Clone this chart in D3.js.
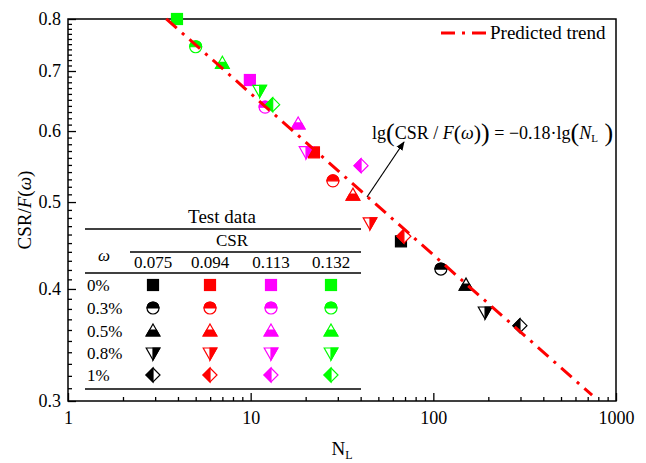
<!DOCTYPE html>
<html><head><meta charset="utf-8">
<script src="https://cdn.jsdelivr.net/npm/d3@7"></script>
<style>
body{margin:0;background:#fff}
svg text{font-family:"Times New Roman","Liberation Serif",Tinos,"DejaVu Serif",serif !important;fill:#000}
</style>
</head><body>
<svg id="chart" width="646" height="463"></svg>
<script>
// Cyclic loading test data: normalised stress ratio vs. cycles to liquefaction
const csrLevels = ["0.075", "0.094", "0.113", "0.132"];
const omegaLevels = ["0%", "0.3%", "0.5%", "0.8%", "1%"];
const seriesColors = ["#000000", "#ff0000", "#ff00ff", "#00ff00"];
const markerKinds = ["square", "circleTop", "triUp", "triDown", "diamondLeft"];

// N_L for each fibre content (rows) and CSR level (columns)
const cyclesN = [
  [66.5, 22.2, 9.9, 3.95],
  [110, 28.2, 12.0, 5.0],
  [151, 36.3, 18.2, 7.0],
  [192, 45, 20.1, 11.2],
  [298, 69, 40.2, 13.2]
];
// CSR / F(omega) for the same cells
const ratioValues = [
  [0.452, 0.568, 0.684, 0.800],
  [0.421, 0.528, 0.638, 0.745],
  [0.404, 0.509, 0.611, 0.714],
  [0.377, 0.474, 0.569, 0.666],
  [0.364, 0.458, 0.549, 0.642]
];

const xTickValues = [1, 10, 100, 1000];
const yTickValues = [0.3, 0.4, 0.5, 0.6, 0.7, 0.8];
const trendSlope = -0.18;
const trendRange = [3.45, 740];

const svg = d3.select("#chart");
const m = {left: 68, top: 19, right: 616, bottom: 401};

const x = d3.scaleLog().domain([1, 1000]).range([m.left, m.right]);
const y = d3.scaleLog().domain([0.3, 0.8]).range([m.bottom, m.top]);

// minor ticks
const xMinor = [];
[1, 10, 100].forEach(d => { for (let k = 2; k <= 9; k++) xMinor.push(d * k); });
const yMinor = d3.range(30, 81).map(v => v / 100).filter(v => !yTickValues.some(t => Math.abs(t - v) < 1e-9));

function styleAxis(g) {
  g.attr("font-family", null);
  g.select(".domain").remove();
  g.selectAll("line").attr("stroke", "#000").attr("stroke-width", 1.3);
  g.selectAll("text").style("font-size", "18px");
}

svg.append("g").attr("transform", `translate(0,${m.bottom})`)
  .call(d3.axisBottom(x).tickValues(xMinor).tickSize(-4).tickFormat(""))
  .call(styleAxis);
svg.append("g").attr("transform", `translate(0,${m.bottom})`)
  .call(d3.axisBottom(x).tickValues(xTickValues).tickSize(-8).tickPadding(10).tickFormat(d3.format("d")))
  .call(styleAxis);
svg.append("g").attr("transform", `translate(${m.left},0)`)
  .call(d3.axisLeft(y).tickValues(yMinor).tickSize(-4).tickFormat(""))
  .call(styleAxis);
svg.append("g").attr("transform", `translate(${m.left},0)`)
  .call(d3.axisLeft(y).tickValues(yTickValues).tickSize(-8).tickPadding(7).tickFormat(d3.format(".1f")))
  .call(styleAxis);

// frame
svg.append("rect").attr("x", m.left).attr("y", m.top)
  .attr("width", m.right - m.left).attr("height", m.bottom - m.top)
  .attr("fill", "none").attr("stroke", "#000").attr("stroke-width", 1.5);

// axis titles
svg.append("text").attr("transform", "translate(31,210) rotate(-90)")
  .attr("text-anchor", "middle").style("font-size", "19px")
  .html('CSR/<tspan font-style="italic">F</tspan>(<tspan font-style="italic">ω</tspan>)');
svg.append("text").attr("x", 342).attr("y", 455).attr("text-anchor", "middle").style("font-size", "19px")
  .html('N<tspan font-size="12px" dy="4">L</tspan>');

// markers
const R = 6;
function drawMarker(g, kind, color) {
  const sw = 1.2;
  if (kind === "square") {
    g.append("rect").attr("x", -R + 0.5).attr("y", -R + 0.5).attr("width", 2 * R - 1).attr("height", 2 * R - 1)
      .attr("fill", color).attr("stroke", color).attr("stroke-width", sw);
  } else if (kind === "circleTop") {
    g.append("circle").attr("r", R).attr("fill", "#fff").attr("stroke", color).attr("stroke-width", sw);
    g.append("path").attr("d", `M${-R},0 A${R},${R} 0 0 1 ${R},0 Z`).attr("fill", color).attr("stroke", color).attr("stroke-width", sw);
  } else if (kind === "triUp") {
    g.append("path").attr("d", "M0,-7 L6.8,5 L-6.8,5 Z").attr("fill", "#fff").attr("stroke", color).attr("stroke-width", sw);
    g.append("path").attr("d", "M-3.4,-1 L3.4,-1 L6.8,5 L-6.8,5 Z").attr("fill", color).attr("stroke", color).attr("stroke-width", sw);
  } else if (kind === "triDown") {
    g.append("path").attr("d", "M-6.8,-5 L6.8,-5 L0,7 Z").attr("fill", "#fff").attr("stroke", color).attr("stroke-width", sw);
    g.append("path").attr("d", "M0,-5 L6.8,-5 L0,7 Z").attr("fill", color).attr("stroke", color).attr("stroke-width", sw);
  } else if (kind === "diamondLeft") {
    g.append("path").attr("d", "M0,-7 L7,0 L0,7 L-7,0 Z").attr("fill", "#fff").attr("stroke", color).attr("stroke-width", sw);
    g.append("path").attr("d", "M0,-7 L0,7 L-7,0 Z").attr("fill", color).attr("stroke", color).attr("stroke-width", sw);
  }
}

const pts = svg.append("g");
omegaLevels.forEach((om, i) => {
  csrLevels.forEach((c, j) => {
    const g = pts.append("g").attr("transform", `translate(${x(cyclesN[i][j])},${y(ratioValues[i][j])})`);
    drawMarker(g, markerKinds[i], seriesColors[j]);
  });
});

// predicted trend: lg(CSR/F) = -0.18 lg(N_L)
const trendPts = trendRange.map(n => [n, Math.pow(10, trendSlope * Math.log10(n))]);
svg.append("path")
  .attr("d", d3.line().x(d => x(d[0])).y(d => y(d[1]))(trendPts))
  .attr("fill", "none").attr("stroke", "#ff0000").attr("stroke-width", 3)
  .attr("stroke-dasharray", "14,7,3,7");

// trend legend
svg.append("line").attr("x1", 441).attr("x2", 487).attr("y1", 33).attr("y2", 33)
  .attr("stroke", "#ff0000").attr("stroke-width", 3).attr("stroke-dasharray", "14,7,3,7");
svg.append("text").attr("x", 490).attr("y", 39).style("font-size", "19px").text("Predicted trend");

// equation with arrow
const eq = svg.append("text").attr("x", 372).attr("y", 139).style("font-size", "18px");
eq.html('lg<tspan font-size="26px" dy="2">(</tspan><tspan dy="-2">CSR / </tspan><tspan font-style="italic">F</tspan><tspan font-size="22px" dy="1">(</tspan><tspan font-style="italic" dy="-1">ω</tspan><tspan font-size="22px" dy="1">)</tspan><tspan font-size="26px" dy="1">)</tspan><tspan dy="-2"> = −0.18·lg</tspan><tspan font-size="26px" dy="2">(</tspan><tspan dy="-2" font-style="italic">N</tspan><tspan font-size="11px" dy="3">L</tspan><tspan font-size="26px" dy="-1"> )</tspan>');

svg.append("defs").append("marker").attr("id", "ah").attr("viewBox", "0 0 10 10")
  .attr("refX", 9).attr("refY", 5).attr("markerWidth", 9).attr("markerHeight", 9)
  .attr("markerUnits", "userSpaceOnUse").attr("orient", "auto")
  .append("path").attr("d", "M0,1 L10,5 L0,9 Z").attr("fill", "#000");
svg.append("line").attr("x1", 367).attr("y1", 197).attr("x2", 404).attr("y2", 142)
  .attr("stroke", "#000").attr("stroke-width", 1.2).attr("marker-end", "url(#ah)");

// test-data key table
const tb = svg.append("g");
const colX = [153, 210, 271, 331];
const rowY = [285, 308, 331, 353, 375];
tb.append("text").attr("x", 222).attr("y", 223).attr("text-anchor", "middle").style("font-size", "19px").text("Test data");
[[85, 361, 229], [130, 361, 252], [85, 361, 273], [85, 361, 389]].forEach(([a, b, yy]) =>
  tb.append("line").attr("x1", a).attr("x2", b).attr("y1", yy).attr("y2", yy).attr("stroke", "#000").attr("stroke-width", 1.5));
tb.append("text").attr("x", 232).attr("y", 246).attr("text-anchor", "middle").style("font-size", "17px").text("CSR");
tb.append("text").attr("x", 104).attr("y", 261).attr("text-anchor", "middle").style("font-size", "17px").style("font-style", "italic").text("ω");
csrLevels.forEach((c, j) => tb.append("text").attr("x", colX[j]).attr("y", 268).attr("text-anchor", "middle").style("font-size", "17px").text(c));
omegaLevels.forEach((om, i) => {
  tb.append("text").attr("x", 87).attr("y", rowY[i] + 6).style("font-size", "17px").text(om);
  csrLevels.forEach((c, j) => {
    const g = tb.append("g").attr("transform", `translate(${colX[j]},${rowY[i]})`);
    drawMarker(g, markerKinds[i], seriesColors[j]);
  });
});
</script>
</body></html>
